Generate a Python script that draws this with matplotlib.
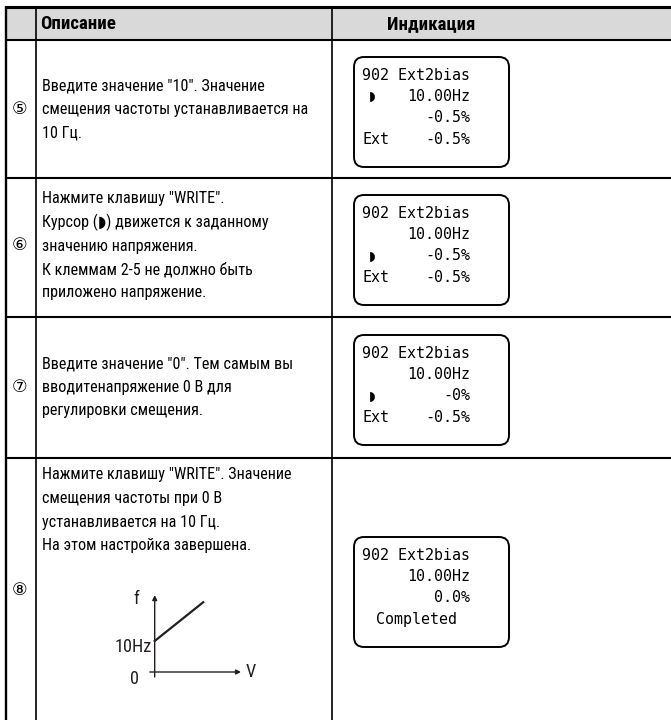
import matplotlib
matplotlib.use('Agg')
import matplotlib.pyplot as plt
from matplotlib import font_manager as fm
from matplotlib.patches import Rectangle, FancyBboxPatch

# данные таблицы
steps = ['⑤', '⑥', '⑦', '⑧']
descriptions = [
    ['Введите значение "10". Значение', 'смещения частоты устанавливается на', '10 Гц.'],
    ['Нажмите клавишу "WRITE".', 'Курсор (◗) движется к заданному', 'значению напряжения.',
     'К клеммам 2-5 не должно быть', 'приложено напряжение.'],
    ['Введите значение "0". Тем самым вы', 'вводитенапряжение 0 В для', 'регулировки смещения.'],
    ['Нажмите клавишу "WRITE". Значение', 'смещения частоты при 0 В',
     'устанавливается на 10 Гц.', 'На этом настройка завершена.'],
]
# строки дисплея: текст слева и значение справа
lcd_left = [
    ['902 Ext2bias', '', '', 'Ext'],
    ['902 Ext2bias', '', '', 'Ext'],
    ['902 Ext2bias', '', '', 'Ext'],
    ['902 Ext2bias', '', '', ''],
]
lcd_right = [
    ['', '10.00Hz', '-0.5%', '-0.5%'],
    ['', '10.00Hz', '-0.5%', '-0.5%'],
    ['', '10.00Hz', '-0%', '-0.5%'],
    ['', '10.00Hz', '0.0%', ''],
]
lcd_center = ['', '', '', 'Completed']
cursor_line = [1, 2, 2, None]
headers = ['Описание', 'Индикация']

# график смещения f(V)
bias_v = [0, 5]
bias_f = [10, 22.5]

W, H = 671, 720
row_tops = [40, 178, 317, 458]

names = {f.name for f in fm.fontManager.ttflist}
pref = ['Roboto Condensed', 'Liberation Sans Narrow', 'Archivo Narrow', 'Roboto']
body_font = next(n for n in pref if n in names or n == 'Roboto')

fig = plt.figure(figsize=(W / 100, H / 100), dpi=100)
ax = fig.add_axes([0, 0, 1, 1])
ax.set_xlim(0, W)
ax.set_ylim(H, 0)
ax.axis('off')
rend = fig.canvas.get_renderer()


def fit_size(s, target, **kw):
    t = ax.text(0, 0, s, fontsize=10, **kw)
    w = t.get_window_extent(renderer=rend).width
    t.remove()
    return 10 * target / w


body_kw = dict(family=[body_font, 'DejaVu Sans'])
body_size = min(fit_size(descriptions[0][1], 266, **body_kw), 14.5)
head_kw = dict(family=[body_font, 'DejaVu Sans'], fontweight='bold')
head_size = min(fit_size(headers[0], 76, **head_kw), 14.5)

# шапка
ax.add_patch(Rectangle((6, 7), W - 6, 33, color='#d9d9d9', lw=0, zorder=0))
ax.text(40, 24, headers[0], fontsize=head_size, va='center', ha='left', **head_kw)
ax.text(431, 24, headers[1], fontsize=head_size, va='center', ha='center', **head_kw)

# линии таблицы
ax.plot([6, W], [7, 7], color='black', lw=2.2, solid_capstyle='butt')
for y in [40] + row_tops[1:]:
    ax.plot([6, W], [y, y], color='black', lw=1.5, solid_capstyle='butt')
ax.plot([6, 6], [6, H], color='black', lw=1.7, solid_capstyle='butt')
ax.plot([36, 36], [7, H], color='black', lw=1.2, solid_capstyle='butt')
ax.plot([332, 332], [7, H], color='black', lw=1.2, solid_capstyle='butt')

step_y = [109, 245, 387, 590]
desc_start = [86, 199, 364, 475]
line_h = 23.5
box_tops = [57, 195, 335, 537]

mono_size = 10.8
char_w = 0.602 * mono_size * 100 / 72
lcd_x0 = 362
lcd_x1 = lcd_x0 + 12 * char_w

for i in range(4):
    ax.text(19.5, step_y[i], steps[i], fontsize=12.5, family=['DejaVu Sans', 'Noto Sans CJK JP'],
            ha='center', va='center')
    for j, line in enumerate(descriptions[i]):
        ax.text(41.5, desc_start[i] + j * line_h, line, fontsize=body_size,
                ha='left', va='center', **body_kw)

    top = box_tops[i]
    ax.add_patch(FancyBboxPatch((354, top), 155, 110,
                                boxstyle='round,pad=0,rounding_size=10',
                                fc='white', ec='black', lw=1.4))
    for j in range(4):
        y = top + 18 + j * 21.5
        if lcd_left[i][j]:
            ax.text(lcd_x0, y, lcd_left[i][j], fontsize=mono_size, family='DejaVu Sans Mono',
                    ha='left', va='center')
        if lcd_right[i][j]:
            ax.text(lcd_x1, y, lcd_right[i][j], fontsize=mono_size, family='DejaVu Sans Mono',
                    ha='right', va='center')
    if lcd_center[i]:
        ax.text((lcd_x0 + lcd_x1) / 2, top + 18 + 3 * 21.5, lcd_center[i], fontsize=mono_size,
                family='DejaVu Sans Mono', ha='center', va='center')
    if cursor_line[i] is not None:
        ax.text(372, top + 18 + cursor_line[i] * 21.5, '◗', fontsize=9, family='DejaVu Sans',
                ha='center', va='center')

# вставка с графиком f(V)
px_v, px_f = 9.7, 3.1
x0_px, y0_px = 154.7, 672
xlim = (-1, 10)
ylim = (-3, 26)
left = x0_px + xlim[0] * px_v
right = x0_px + xlim[1] * px_v
bottom = y0_px - ylim[0] * px_f
top_px = y0_px - ylim[1] * px_f
iax = fig.add_axes([left / W, 1 - bottom / H, (right - left) / W, (bottom - top_px) / H])
iax.set_xlim(*xlim)
iax.set_ylim(*ylim)
iax.axis('off')
iax.plot(bias_v, bias_f, color='#231f20', lw=1.6)
iax.annotate('', xy=(8.9, 0), xytext=(-0.5, 0),
             arrowprops=dict(arrowstyle='-|>', color='#231f20', lw=1.0, mutation_scale=7,
                             shrinkA=0, shrinkB=0))
iax.annotate('', xy=(0, 24.8), xytext=(0, -1.6),
             arrowprops=dict(arrowstyle='-|>', color='#231f20', lw=1.0, mutation_scale=7,
                             shrinkA=0, shrinkB=0))
lab_size = min(fit_size('10Hz', 37, family=body_font), 14)
lab = dict(fontsize=lab_size, family=body_font, color='#231f20', va='center')
iax.text(9.4, 0, 'V', ha='left', **lab)
iax.text(-1.6, -2.3, '0', ha='right', **lab)
iax.text(-0.3, bias_f[0] - 2.0, '10Hz', ha='right', **lab)
iax.text(-1.6, 23.5, 'f', ha='right', **lab)

fig.savefig('out.png', dpi=100)
